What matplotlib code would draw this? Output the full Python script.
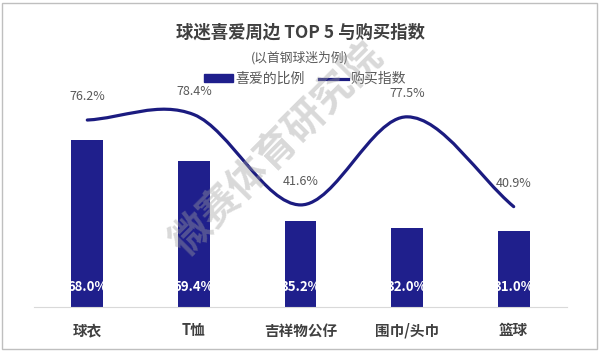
import matplotlib
matplotlib.use("Agg")
import matplotlib.pyplot as plt
from matplotlib.path import Path
from matplotlib.patches import PathPatch, Patch, Rectangle
from matplotlib.lines import Line2D

plt.rcParams['font.family'] = ['Noto Sans CJK SC', 'DejaVu Sans']

categories = ["球衣", "T恤", "吉祥物公仔", "围巾/头巾", "篮球"]
like_ratio = [68.0, 59.4, 35.2, 32.0, 31.0]
buy_index = [76.2, 78.4, 41.6, 77.5, 40.9]

navy = "#1f1f8c"
line_col = "#1b1b80"

fig = plt.figure(figsize=(6, 3.52), dpi=100)
ax = fig.add_axes([34/600, 45/352, 533/600, 212/352])

x = list(range(len(categories)))
bars = ax.bar(x, like_ratio, width=0.30, color=navy, zorder=2)

# bar labels in white, clipped to the bar
for b, v in zip(bars, like_ratio):
    t = ax.text(b.get_x() + b.get_width()/2, 8, f"{v:.1f}%", ha="center", va="center",
                color="white", fontsize=9.5, fontweight="bold", zorder=3)
    t.set_clip_path(b)

# smoothed line like Excel (bezier through the points)
n = len(buy_index)
tang = []
for i in range(n):
    if i == 0:
        tang.append(buy_index[1] - buy_index[0])
    elif i == n - 1:
        tang.append(buy_index[-1] - buy_index[-2])
    else:
        tang.append((buy_index[i+1] - buy_index[i-1]) / 2)
verts = [(x[0], buy_index[0])]
codes = [Path.MOVETO]
for i in range(n - 1):
    verts += [(x[i] + 1/3, buy_index[i] + tang[i]/3),
              (x[i+1] - 1/3, buy_index[i+1] - tang[i+1]/3),
              (x[i+1], buy_index[i+1])]
    codes += [Path.CURVE4] * 3
ax.add_patch(PathPatch(Path(verts, codes), facecolor="none", edgecolor=line_col,
                       lw=2.3, capstyle="round", zorder=4))

for xi, v in zip(x, buy_index):
    ax.annotate(f"{v:.1f}%", (xi, v), xytext=(0, 12), textcoords="offset points",
                ha="center", va="bottom", fontsize=9, color="#595959", zorder=5)

ax.set_xlim(-0.5, 4.5)
ax.set_ylim(0, 86.4)
ax.set_yticks([])
ax.set_xticks(x)
ax.set_xticklabels(categories, fontsize=10.5, fontweight="bold", color="#404040")
ax.tick_params(axis="x", length=0, pad=11)
for s in ["top", "left", "right"]:
    ax.spines[s].set_visible(False)
ax.spines["bottom"].set_color("#d9d9d9")

fig.text(0.5, 1 - 33/352, "球迷喜爱周边 TOP 5 与购买指数", ha="center", va="center",
         fontsize=12.5, fontweight="bold", color="#404040")
fig.text(0.5, 1 - 58/352, "(以首钢球迷为例)", ha="center", va="center",
         fontsize=9.2, color="#595959")

handles = [Patch(color=navy), Line2D([], [], color=line_col, lw=2.3)]
fig.legend(handles, ["喜爱的比例", "购买指数"], loc="center", ncol=2,
           bbox_to_anchor=(305/600, 1 - 79/352), frameon=False, fontsize=10,
           handlelength=2.1, handleheight=0.5, handletextpad=0.2, columnspacing=1.0,
           labelcolor="#595959")

# watermark
fig.text(278/600, 1 - 150/352, "微赛体育研究院", rotation=45, ha="center", va="center",
         fontsize=29, fontweight="bold", color="#a0a0a0", alpha=0.4, zorder=10)

fig.patches.append(Rectangle((2/600, 3/352), 595/600, 346/352, transform=fig.transFigure,
                             fill=False, edgecolor="#bfbfbf", lw=1))

fig.savefig("out.png", dpi=100)
